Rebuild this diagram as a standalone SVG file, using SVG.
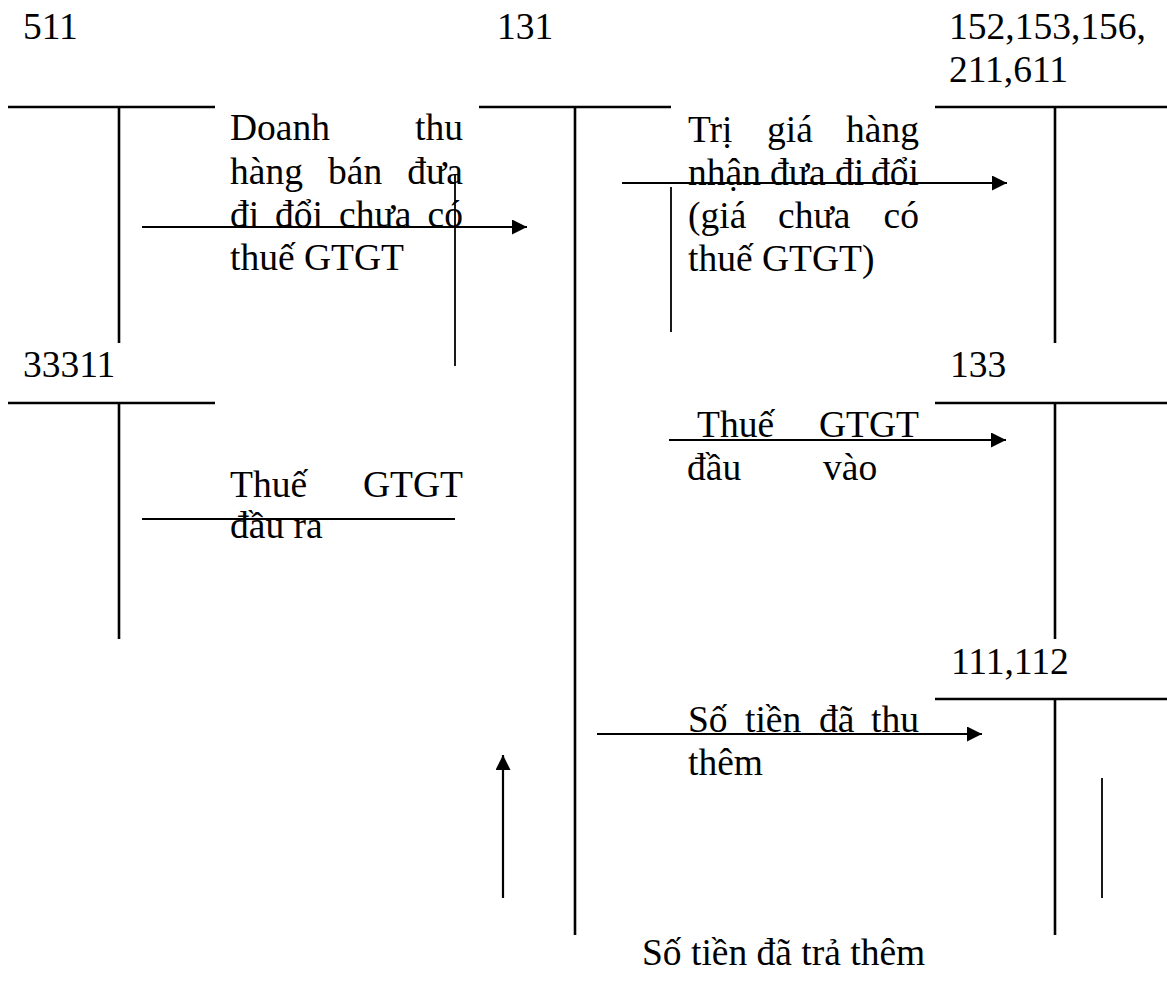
<svg xmlns="http://www.w3.org/2000/svg" width="1167" height="982" viewBox="0 0 1167 982">
<style>
text{font-family:"Liberation Serif","Times New Roman",serif;font-size:37.5px;fill:#000}
.t{stroke:#000;stroke-width:2.6;fill:none}
.c{stroke:#000;stroke-width:2.2;fill:none}
.s{stroke:#000;stroke-width:1.8;fill:none}
.e{text-anchor:end}
</style>
<defs>
<marker id="ah" viewBox="0 0 15 15" refX="15" refY="7.5" markerWidth="15" markerHeight="15" markerUnits="userSpaceOnUse" orient="auto">
<path d="M0,0 L15,7.5 L0,15 Z" fill="#000"/>
</marker>
</defs>
<rect width="1167" height="982" fill="#fff"/>
<g id="acc511">
<text x="23" y="39">511</text>
<path class="t" d="M8 107 H215 M119 107 V343"/>
</g>
<g id="acc131">
<text x="497" y="39">131</text>
<path class="t" d="M479 107 H671 M575 107 V935"/>
</g>
<g id="acc152">
<text x="949" y="39">152,153,156,</text>
<text x="949" y="82">211,611</text>
<path class="t" d="M935 107 H1167 M1055 107 V343"/>
</g>
<g id="acc33311">
<text x="23" y="377">33311</text>
<path class="t" d="M8 403 H215 M119 403 V639"/>
</g>
<g id="acc133">
<text x="950" y="377">133</text>
<path class="t" d="M935 403 H1167 M1055 403 V639"/>
</g>
<g id="acc111">
<text x="951" y="674">111,112</text>
<path class="t" d="M935 699 H1167 M1055 699 V935"/>
</g>
<g id="connectors">
<path class="c" d="M142 227 H527" marker-end="url(#ah)"/>
<path class="s" d="M455 175 V366"/>
<path class="c" d="M622 183 H1007" marker-end="url(#ah)"/>
<path class="s" d="M671 187 V332"/>
<path class="c" d="M142 519 H455"/>
<path class="c" d="M669 440 H1006" marker-end="url(#ah)"/>
<path class="c" d="M597 734 H982" marker-end="url(#ah)"/>
<path class="c" d="M503 898 V755" marker-end="url(#ah)"/>
<path class="s" d="M1102 778 V898"/>
</g>
<g id="labels">
<text x="230" y="140">Doanh</text><text class="e" x="463" y="140">thu</text>
<text x="230" y="184">hàng</text><text x="328" y="184">bán</text><text class="e" x="463" y="184">đưa</text>
<text x="230" y="227">đi</text><text x="275" y="227">đổi</text><text x="339" y="227">chưa</text><text class="e" x="463" y="227">có</text>
<text x="230" y="270">thuế GTGT</text>
<text x="688" y="142">Trị</text><text x="767" y="142">giá</text><text class="e" x="919" y="142">hàng</text>
<text x="688" y="185">nhận</text><text x="770" y="185">đưa</text><text x="835" y="185">đi</text><text class="e" x="919" y="185">đổi</text>
<text x="688" y="228">(giá</text><text x="778" y="228">chưa</text><text class="e" x="919" y="228">có</text>
<text x="688" y="271">thuế GTGT)</text>
<text x="230" y="497">Thuế</text><text class="e" x="463" y="497">GTGT</text>
<text x="230" y="538">đầu ra</text>
<text x="697" y="437">Thuế</text><text class="e" x="919" y="437">GTGT</text>
<text x="687" y="480">đầu</text><text x="823" y="480">vào</text>
<text x="688" y="732">Số</text><text x="745" y="732">tiền</text><text x="819" y="732">đã</text><text class="e" x="919" y="732">thu</text>
<text x="688" y="775">thêm</text>
<text x="642" y="965">Số tiền đã trả thêm</text>
</g>
</svg>
